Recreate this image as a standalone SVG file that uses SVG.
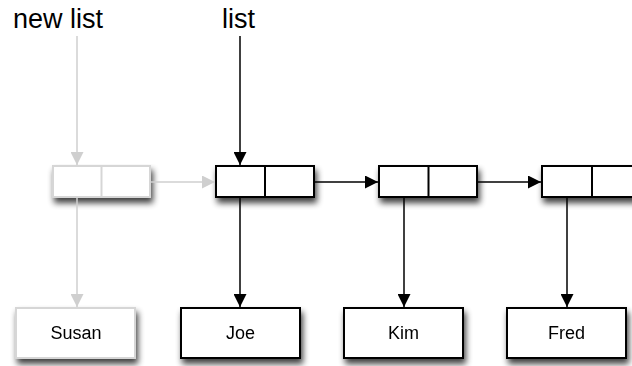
<svg xmlns="http://www.w3.org/2000/svg" width="632" height="366" viewBox="0 0 632 366">
<style>
.lbl{font-family:"Liberation Sans",Arial,sans-serif;font-size:27px;fill:#000}
.txt{font-family:"Liberation Sans",Arial,sans-serif;font-size:18px;fill:#000;text-anchor:middle}
.box{fill:#fff;stroke:#000;stroke-width:2}
.gbox{fill:#fff;stroke:#d6d6d6;stroke-width:2}
.ln{stroke:#000;stroke-width:1.5;fill:none}
.gln{stroke:#cfcfcf;stroke-width:1.5;fill:none}
</style>
<defs>
<filter id="sh" x="-20%" y="-20%" width="150%" height="170%">
<feGaussianBlur in="SourceAlpha" stdDeviation="3"/>
<feOffset dx="2" dy="5" result="b"/>
<feComponentTransfer><feFuncA type="linear" slope="0.75"/></feComponentTransfer>
<feMerge><feMergeNode/><feMergeNode in="SourceGraphic"/></feMerge>
</filter>
<marker id="ah" markerWidth="13" markerHeight="13" viewBox="0 0 12 12" refX="12" refY="6" orient="auto" markerUnits="userSpaceOnUse">
<path d="M0,0 L12,6 L0,12 Z" fill="#000"/>
</marker>
<marker id="gah" markerWidth="13" markerHeight="13" viewBox="0 0 12 12" refX="12" refY="6" orient="auto" markerUnits="userSpaceOnUse">
<path d="M0,0 L12,6 L0,12 Z" fill="#cfcfcf"/>
</marker>
</defs>
<rect width="632" height="366" fill="#fff"/>
<g id="label-newlist"><text class="lbl" x="13" y="28">new list</text></g>
<g id="label-list"><text class="lbl" x="222" y="28">list</text></g>
<g id="cell-new" filter="url(#sh)">
<rect class="gbox" x="53" y="166" width="97" height="31"/>
<line x1="101.5" y1="166" x2="101.5" y2="197" stroke="#d6d6d6" stroke-width="2"/>
</g>
<g id="cell-joe" filter="url(#sh)">
<rect class="box" x="216" y="166" width="98" height="31"/>
<line x1="265" y1="166" x2="265" y2="197" stroke="#000" stroke-width="2"/>
</g>
<g id="cell-kim" filter="url(#sh)">
<rect class="box" x="379" y="166" width="98" height="31"/>
<line x1="428.5" y1="166" x2="428.5" y2="197" stroke="#000" stroke-width="2"/>
</g>
<g id="cell-fred" filter="url(#sh)">
<rect class="box" x="542" y="166" width="98" height="31"/>
<line x1="592" y1="166" x2="592" y2="197" stroke="#000" stroke-width="2"/>
</g>
<g id="node-susan" filter="url(#sh)">
<rect class="gbox" x="16" y="308" width="119" height="50"/>
<text class="txt" x="76" y="339">Susan</text>
</g>
<g id="node-joe" filter="url(#sh)">
<rect class="box" x="181" y="308" width="119" height="50"/>
<text class="txt" x="240.5" y="339">Joe</text>
</g>
<g id="node-kim" filter="url(#sh)">
<rect class="box" x="344" y="308" width="119" height="50"/>
<text class="txt" x="403.5" y="339">Kim</text>
</g>
<g id="node-fred" filter="url(#sh)">
<rect class="box" x="507" y="308" width="119" height="50"/>
<text class="txt" x="566.5" y="339">Fred</text>
</g>
<g id="connectors">
<line class="gln" x1="77" y1="36" x2="77" y2="165" marker-end="url(#gah)"/>
<line class="ln" x1="240" y1="36" x2="240" y2="165" marker-end="url(#ah)"/>
<line class="gln" x1="151" y1="182" x2="215" y2="182" marker-end="url(#gah)"/>
<line class="ln" x1="315" y1="182" x2="378" y2="182" marker-end="url(#ah)"/>
<line class="ln" x1="478" y1="182" x2="541" y2="182" marker-end="url(#ah)"/>
<line class="gln" x1="77" y1="198" x2="77" y2="307" marker-end="url(#gah)"/>
<line class="ln" x1="240" y1="198" x2="240" y2="307" marker-end="url(#ah)"/>
<line class="ln" x1="404" y1="198" x2="404" y2="307" marker-end="url(#ah)"/>
<line class="ln" x1="567" y1="198" x2="567" y2="307" marker-end="url(#ah)"/>
</g>
</svg>
